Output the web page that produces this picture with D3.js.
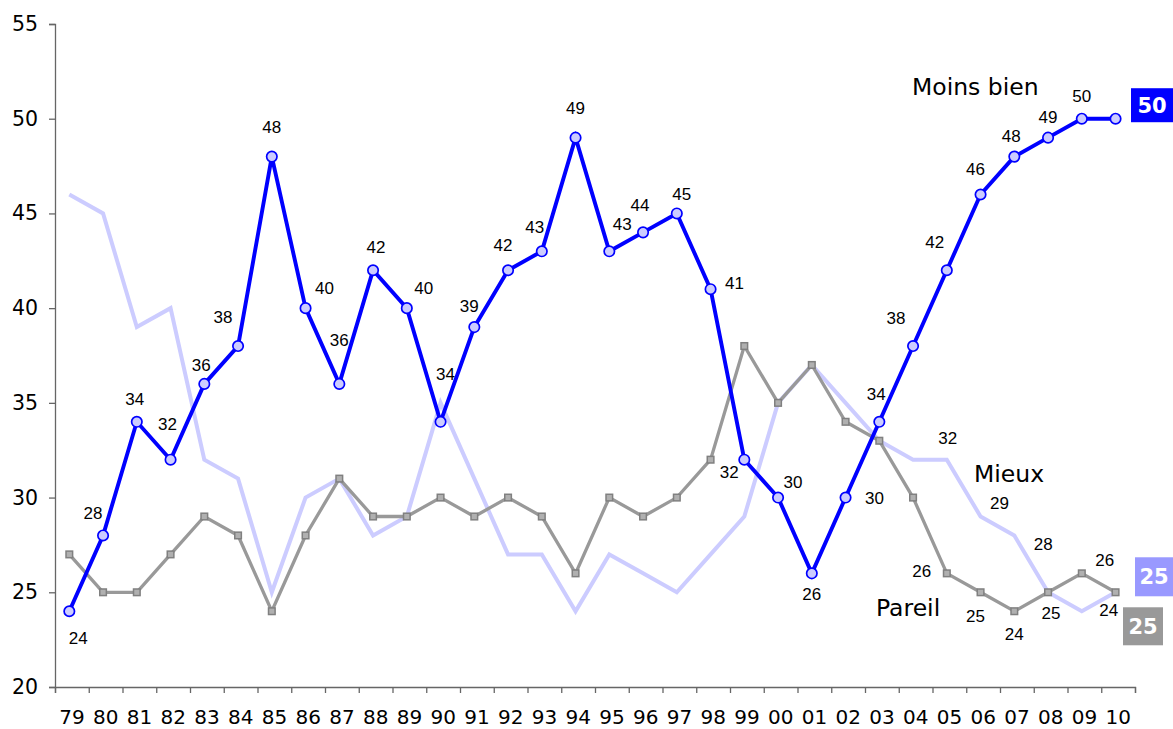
<!DOCTYPE html>
<html>
<head>
<meta charset="utf-8">
<script src="https://cdn.jsdelivr.net/npm/d3@7"></script>
<style>
  html, body { margin: 0; padding: 0; background: #fff; }
  svg { display: block; }
</style>
</head>
<body>
<svg id="chart" width="1173" height="729"></svg>
<script>
// ---------- data ----------
const years = ["79","80","81","82","83","84","85","86","87","88","89","90","91","92","93","94","95","96","97","98","99","00","01","02","03","04","05","06","07","08","09","10"];
const moinsBien = [24,28,34,32,36,38,48,40,36,42,40,34,39,42,43,49,43,44,45,41,32,30,26,30,34,38,42,46,48,49,50,50];
const mieux     = [46,45,39,40,32,31,25,30,31,28,29,35,31,27,27,24,27,26,25,27,29,35,37,35,33,32,32,29,28,25,24,25];
const pareil    = [27,25,25,27,29,28,24,28,31,29,29,30,29,30,29,26,30,29,30,32,38,35,37,34,33,30,26,25,24,25,26,25];
const yTicks = [20,25,30,35,40,45,50,55];
const seriesNames = ["Moins bien","Mieux","Pareil"];

// label nudges (layout only): [dx, dy] of the value label centre relative to its point, null = no label
const moinsBienLabelNudge = [[9,27],[-10,-23],[-2,-23],[-3,-36],[-3,-19],[-15,-29],[0,-30],[19,-20],[0,-44],[3,-23],[17,-20],[5,-48],[-5,-21],[-5,-25],[-7,-24],[0,-30],[13,-27],[-3,-27],[5,-20],[24,-6],[-15,12],[15,-16],[0,21],[29,0],[-3,-28],[-17,-28],[-12,-28],[-5,-26],[-3,-21],[0,-21],[0,-23],null];
const mieuxLabelNudge = {26:[1,-22],27:[19,-14],28:[29,8],30:[27,-1]};
const pareilLabelNudge = {26:[-25,-2],27:[-5,24],28:[0,23],29:[3,21],30:[23,-13]};

// ---------- layout ----------
const svg = d3.select("#chart");
const x = d3.scaleBand().domain(years).range([55, 1135]).padding(0);
const xIdx = d3.scaleLinear().domain([0, years.length]).range([55, 1135]);
const y = d3.scaleLinear().domain([20, 55]).range([687, 24]);
const px = d => x(d) + x.bandwidth() * 0.424;

const axisColor = "#666";
const valueFont = "'Liberation Sans', Arial, sans-serif";
const axisFont = "'DejaVu Sans', Verdana, sans-serif";

// y axis
const gy = svg.append("g").attr("transform", "translate(55,0)")
  .call(d3.axisLeft(y).tickValues(yTicks).tickSize(6).tickPadding(11).tickFormat(d3.format("d")));
gy.select(".domain").attr("stroke", axisColor).attr("stroke-width", 1.3);
gy.selectAll(".tick line").attr("stroke", axisColor).attr("stroke-width", 1.3);
gy.selectAll(".tick text").attr("font-family", axisFont).attr("font-size", 20.5).attr("fill", "#000");

// x axis ticks at boundaries
const gxt = svg.append("g").attr("transform", "translate(0,687)")
  .call(d3.axisBottom(xIdx).tickValues(d3.range(years.length + 1)).tickSize(6).tickFormat(""));
gxt.select(".domain").attr("stroke", axisColor).attr("stroke-width", 1.3);
gxt.selectAll(".tick line").attr("stroke", axisColor).attr("stroke-width", 1.3);

// x labels
const gx = svg.append("g").attr("transform", "translate(0,687)")
  .call(d3.axisBottom(x).tickSize(0).tickPadding(0));
gx.select(".domain").remove();
gx.selectAll(".tick text").attr("font-family", axisFont).attr("font-size", 20).attr("fill", "#000")
  .attr("dy", null).attr("y", 37);

// ---------- lines ----------
const line = d3.line().x((d, i) => px(years[i])).y(d => y(d));

svg.append("path").datum(mieux).attr("d", line)
  .attr("fill", "none").attr("stroke", "#ccccff").attr("stroke-width", 4).attr("stroke-linejoin", "miter");

svg.append("path").datum(pareil).attr("d", line)
  .attr("fill", "none").attr("stroke", "#999999").attr("stroke-width", 3.3).attr("stroke-linejoin", "miter");
svg.append("g").selectAll("rect").data(pareil).join("rect")
  .attr("x", (d, i) => px(years[i]) - 3.3).attr("y", d => y(d) - 3.3)
  .attr("width", 6.6).attr("height", 6.6)
  .attr("fill", "#b0b0b0").attr("stroke", "#808080").attr("stroke-width", 1.5);

svg.append("path").datum(moinsBien).attr("d", line)
  .attr("fill", "none").attr("stroke", "#0000ff").attr("stroke-width", 3.9).attr("stroke-linejoin", "miter");
svg.append("g").selectAll("circle").data(moinsBien).join("circle")
  .attr("cx", (d, i) => px(years[i])).attr("cy", d => y(d)).attr("r", 5.2)
  .attr("fill", "#ccccff").attr("stroke", "#0000ff").attr("stroke-width", 1.7);

// ---------- value labels ----------
function addLabels(values, nudgeOf) {
  const items = values.map((v, i) => ({v, i, n: nudgeOf(i)})).filter(d => d.n);
  svg.append("g").selectAll("text").data(items).join("text")
    .attr("x", d => px(years[d.i]) + d.n[0])
    .attr("y", d => y(d.v) + d.n[1])
    .attr("dy", "0.36em")
    .attr("text-anchor", "middle")
    .attr("font-family", valueFont).attr("font-size", 17).attr("fill", "#000")
    .text(d => d.v);
}
addLabels(moinsBien, i => moinsBienLabelNudge[i]);
addLabels(mieux, i => mieuxLabelNudge[i]);
addLabels(pareil, i => pareilLabelNudge[i]);

// ---------- series names ----------
const nameFont = 23.5;
svg.append("text").attr("x", 912).attr("y", y(moinsBien[28]) - 62).attr("font-family", axisFont)
  .attr("font-size", nameFont).attr("fill", "#000").text(seriesNames[0]);
svg.append("text").attr("x", 974).attr("y", y(mieux[27]) - 35).attr("font-family", axisFont)
  .attr("font-size", nameFont).attr("fill", "#000").text(seriesNames[1]);
svg.append("text").attr("x", 876).attr("y", y(pareil[26]) + 43).attr("font-family", axisFont)
  .attr("font-size", nameFont).attr("fill", "#000").text(seriesNames[2]);

// ---------- end badges ----------
const last = years.length - 1;
const badges = [
  {v: moinsBien[last], x0: 1131, w: 42, top: -30.5, h: 34, fill: "#0000ff"},
  {v: mieux[last],     x0: 1135, w: 38, top: -35,   h: 39, fill: "#9999ff"},
  {v: pareil[last],    x0: 1123, w: 40, top: 15,    h: 38, fill: "#999999"}
];
const gb = svg.append("g");
badges.forEach(b => {
  const yy = y(b.v);
  gb.append("rect").attr("x", b.x0).attr("y", yy + b.top).attr("width", b.w).attr("height", b.h).attr("fill", b.fill);
  gb.append("text").attr("x", b.x0 + b.w / 2).attr("y", yy + b.top + b.h / 2).attr("dy", "0.36em")
    .attr("text-anchor", "middle").attr("font-family", axisFont).attr("font-weight", "bold")
    .attr("font-size", 21).attr("fill", "#fff").text(b.v);
});
</script>
</body>
</html>
